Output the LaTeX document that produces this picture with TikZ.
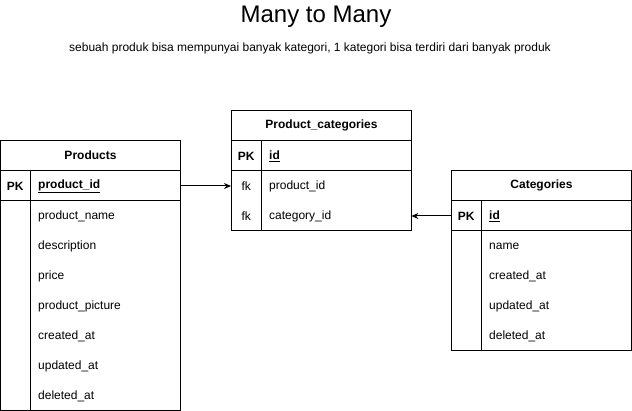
\documentclass[tikz,border=0pt]{standalone}
\usepackage{fontspec}
\setmainfont{Liberation Sans}
\usetikzlibrary{arrows.meta,positioning}

\begin{document}
\begin{tikzpicture}[x=1pt,y=-1pt,
  cell/.style={draw,line width=1pt,inner sep=0pt,anchor=north west},
  hdr/.style={cell,minimum height=30pt,font=\bfseries\fontsize{12}{14}\selectfont},
  keyc/.style={minimum width=30pt,minimum height=30pt,inner sep=0pt,anchor=west,yshift=-1pt,font=\fontsize{12}{14}\selectfont},
  fld/.style={inner xsep=8pt,inner ysep=0pt,text width=134pt,minimum height=30pt,align=left,anchor=west,yshift=-1pt,font=\fontsize{12}{14}\selectfont},
  link/.style={-{Stealth[length=7pt,width=6pt]},line width=1pt}]
\useasboundingbox (0,0) rectangle (632,411);

\node[font=\fontsize{24}{28}\selectfont] (title) at (316,17) {Many to Many};
\node[font=\fontsize{12}{14}\selectfont] (subtitle) at (310,48)
  {sebuah produk bisa mempunyai banyak kategori, 1 kategori bisa terdiri dari banyak produk};

% Products
\node[hdr,minimum width=180pt] (products) at (0,140) {Products};
\node[cell,minimum width=30pt,minimum height=30pt] (prodPKbox) at (0,170) {};
\node[cell,minimum width=150pt,minimum height=30pt] (prodIdbox) at (30,170) {};
\node[cell,minimum width=30pt,minimum height=210pt] (prodKeys) at (0,200) {};
\node[cell,minimum width=150pt,minimum height=210pt] (prodBody) at (30,200) {};
\node[keyc,font=\bfseries\fontsize{12}{14}\selectfont] (prodPK) at (0,185) {PK};
\node[fld,font=\bfseries\fontsize{12}{14}\selectfont] (prodId) at (30,185) {\underline{product\_id}};
\foreach \i/\w in {0/product\_name,1/description,2/price,3/product\_picture,4/created\_at,5/updated\_at,6/deleted\_at}{
  \node[fld] (prodf\i) at (30,215+30*\i) {\w};
}

% Product_categories
\node[hdr,minimum width=180pt] (pc) at (231,110) {Product\_categories};
\node[cell,minimum width=30pt,minimum height=30pt] (pcPKbox) at (231,140) {};
\node[cell,minimum width=150pt,minimum height=30pt] (pcIdbox) at (261,140) {};
\node[cell,minimum width=30pt,minimum height=60pt] (pcKeys) at (231,170) {};
\node[cell,minimum width=150pt,minimum height=60pt] (pcBody) at (261,170) {};
\node[keyc,font=\bfseries\fontsize{12}{14}\selectfont] (pcPK) at (231,155) {PK};
\node[fld,font=\bfseries\fontsize{12}{14}\selectfont] (pcId) at (261,155) {\underline{id}};
\foreach \i/\w in {0/product\_id,1/category\_id}{
  \node[keyc] (pck\i) at (231,185+30*\i) {fk};
  \node[fld] (pcf\i) at (261,185+30*\i) {\w};
}

% Categories
\node[hdr,minimum width=180pt] (categories) at (451,170) {Categories};
\node[cell,minimum width=30pt,minimum height=30pt] (catPKbox) at (451,200) {};
\node[cell,minimum width=150pt,minimum height=30pt] (catIdbox) at (481,200) {};
\node[cell,minimum width=30pt,minimum height=120pt] (catKeys) at (451,230) {};
\node[cell,minimum width=150pt,minimum height=120pt] (catBody) at (481,230) {};
\node[keyc,font=\bfseries\fontsize{12}{14}\selectfont] (catPK) at (451,215) {PK};
\node[fld,font=\bfseries\fontsize{12}{14}\selectfont] (catId) at (481,215) {\underline{id}};
\foreach \i/\w in {0/name,1/created\_at,2/updated\_at,3/deleted\_at}{
  \node[fld] (catf\i) at (481,245+30*\i) {\w};
}

\draw[link] (prodId.east) -- (pck0.west);
\draw[link] (catPK.west) -- (pcf1.east);
\end{tikzpicture}
\end{document}
